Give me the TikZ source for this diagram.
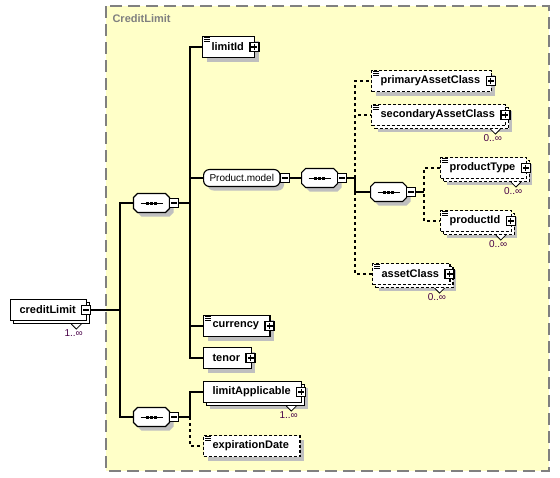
\documentclass[tikz,border=0pt]{standalone}
\usepackage{fontspec}
\setmainfont{Liberation Sans}
\usetikzlibrary{shapes.misc}
\usetikzlibrary{shadows}

\definecolor{bgyellow}{RGB}{255,255,200}
\definecolor{multcol}{RGB}{72,0,72}

\tikzset{
  frame/.style={draw=black!50, fill=bgyellow, line width=1.3pt, dash pattern=on 12pt off 6pt},
  elem/.style={draw, fill=white, line width=1.1pt, minimum height=21pt, inner xsep=4pt, inner ysep=0pt,
    font=\bfseries\fontsize{11}{13}\selectfont,
    execute at begin node={\hspace{5pt}}, execute at end node={\hspace{7pt}}},
  shadowed/.style={general shadow={fill=black!25, draw=none, shadow xshift=4pt, shadow yshift=-4pt}},
  multi/.style={general shadow={fill=black!25, draw=none, shadow xshift=6pt, shadow yshift=-6pt},
    copy shadow={shadow xshift=3pt, shadow yshift=-3pt}},
  opt/.style={dash pattern=on 3pt off 2pt},
  optline/.style={dash pattern=on 3pt off 3pt},
  group/.style={draw, fill=white, line width=1.1pt, rounded corners=6pt, minimum height=17pt,
    inner xsep=6pt, inner ysep=0pt, font=\fontsize{10}{12}\selectfont, shadowed},
  seq/.style={chamfered rectangle, chamfered rectangle xsep=2pt, chamfered rectangle ysep=2pt,
    draw, fill=white, line width=1.1pt, inner xsep=16pt, inner ysep=7.5pt, shadowed,
    path picture={
      \draw[line width=1pt] ([xshift=-11pt]path picture bounding box.center) -- ([xshift=11pt]path picture bounding box.center);
      \draw[line width=3pt, dash pattern=on 3pt off 1pt] ([xshift=-5.5pt]path picture bounding box.center) -- ([xshift=5.5pt]path picture bounding box.center);
    }},
  btn/.style={draw, fill=white, minimum size=9pt, inner sep=0pt, line width=1.3pt},
  plusbtn/.style={btn, path picture={\draw[line width=1.1pt] (path picture bounding box.center)
      +(-3pt,0pt) -- +(3pt,0pt) +(0pt,-3pt) -- +(0pt,3pt);}},
  minusbtn/.style={btn, path picture={\draw[line width=1.1pt] (path picture bounding box.center)
      +(-3pt,0pt) -- +(3pt,0pt);}},
  mult/.style={font=\fontsize{10}{12}\selectfont, text=multcol, inner sep=0pt, anchor=north east},
}

\begin{document}
\begin{tikzpicture}[x=1pt, y=-1pt, line width=1.1pt]
  \useasboundingbox (0,0) rectangle (560,477);
  \draw[frame] (106,6) rectangle (549,471);
  \node[font=\bfseries\fontsize{11}{13}\selectfont, text=black!50, anchor=west, inner sep=0pt] (title) at (112,19) {CreditLimit};

  % root element
  \node[elem, copy shadow={shadow xshift=3pt, shadow yshift=-3pt}, anchor=west] (creditLimit) at (10,310) {creditLimit};
  \node[minusbtn] (creditLimit-btn) at ([xshift=-1pt]creditLimit.east) {};

  % compositors under the root
  \node[seq] (seq1) at (151.5,203) {};
  \node[minusbtn, anchor=west] (seq1-btn) at ([xshift=-1pt]seq1.east) {};
  \node[seq] (seq2) at (151.5,417) {};
  \node[minusbtn, anchor=west] (seq2-btn) at ([xshift=-1pt]seq2.east) {};

  % first sequence
  \node[elem, shadowed, anchor=west] (limitId) at (202,47) {limitId};
  \node[plusbtn] (limitId-btn) at ([xshift=-1pt]limitId.east) {};
  \node[group, anchor=west] (pm) at (203,178) {Product.model};
  \node[minusbtn, anchor=west] (pm-btn) at ([xshift=-1pt]pm.east) {};
  \node[elem, shadowed, anchor=west] (currency) at (203,326) {currency};
  \node[plusbtn] (currency-btn) at ([xshift=-1pt]currency.east) {};
  \node[elem, shadowed, anchor=west] (tenor) at (203,358) {tenor};
  \node[plusbtn] (tenor-btn) at ([xshift=-1pt]tenor.east) {};

  % second sequence
  \node[elem, multi, anchor=west] (limitApplicable) at (203,392) {limitApplicable};
  \node[plusbtn] (limitApplicable-btn) at ([xshift=-1pt]limitApplicable.east) {};
  \node[elem, opt, shadowed, anchor=west] (expirationDate) at (203,446) {expirationDate};

  % Product.model group
  \node[seq, anchor=west] (seq3) at (301,178) {};
  \node[minusbtn, anchor=west] (seq3-btn) at ([xshift=-1pt]seq3.east) {};
  \node[elem, opt, shadowed, anchor=west] (primaryAssetClass) at (371,81) {primaryAssetClass};
  \node[plusbtn] (primaryAssetClass-btn) at ([xshift=-1pt]primaryAssetClass.east) {};
  \node[elem, opt, multi, anchor=west] (secondaryAssetClass) at (371,115) {secondaryAssetClass};
  \node[plusbtn] (secondaryAssetClass-btn) at ([xshift=-1pt]secondaryAssetClass.east) {};
  \node[seq, anchor=west] (seq4) at (370,192) {};
  \node[minusbtn, anchor=west] (seq4-btn) at ([xshift=-1pt]seq4.east) {};
  \node[elem, opt, multi, anchor=west] (productType) at (440,168) {productType};
  \node[plusbtn] (productType-btn) at ([xshift=-1pt]productType.east) {};
  \node[elem, opt, multi, anchor=west] (productId) at (440,221) {productId};
  \node[plusbtn] (productId-btn) at ([xshift=-1pt]productId.east) {};
  \node[elem, opt, multi, anchor=west] (assetClass) at (372,274) {assetClass};
  \node[plusbtn] (assetClass-btn) at ([xshift=-1pt]assetClass.east) {};

  % documentation marks
  \foreach \n in {limitId, currency, expirationDate, primaryAssetClass, secondaryAssetClass, productType, productId, assetClass}
    \foreach \k in {1.5,3.5,5.5}
      \draw[line width=.7pt] ([shift={(2pt,-\k pt)}]\n.north west) -- ++(6pt,0pt);

  % occurrences
  \foreach \n/\m in {creditLimit/1, limitApplicable/1, secondaryAssetClass/0, productType/0, productId/0, assetClass/0} {
    \draw[fill=white, line width=.8pt] ([shift={(-16pt,-3pt)}]\n.south east) -- ++(5pt,-5pt) -- ++(5pt,5pt);
    \node[mult] (\n-mult) at ([shift={(-4pt,-8pt)}]\n.south east) {\m..∞};
  }

  % connectors
  \coordinate (fork1) at (120,310);
  \draw (creditLimit-btn.east) -- (fork1);
  \draw (seq1.west) -| (fork1) |- (seq2.west);
  \coordinate (fork2) at (190,203);
  \draw (seq1-btn.east) -- (fork2);
  \draw (limitId.west) -| (fork2) |- (tenor.west);
  \draw (pm.west) -- (pm.west -| fork2);
  \draw (currency.west) -- (currency.west -| fork2);
  \coordinate (fork3) at (190,417);
  \draw (seq2-btn.east) -- (fork3) |- (limitApplicable.west);
  \draw[optline] (fork3) |- (expirationDate.west);
  \draw (pm-btn.east) -- (seq3.west);
  \coordinate (fork4) at (355,178);
  \draw (seq3-btn.east) -- (fork4) |- (seq4.west);
  \draw[optline] (fork4) |- (primaryAssetClass.west);
  \draw[optline] (fork4) |- (secondaryAssetClass.west);
  \draw[optline] (seq4.west -| fork4) |- (assetClass.west);
  \coordinate (fork5) at (424,192);
  \draw (seq4-btn.east) -- (fork5);
  \draw[optline] (productType.west) -| (fork5) |- (productId.west);
\end{tikzpicture}
\end{document}
